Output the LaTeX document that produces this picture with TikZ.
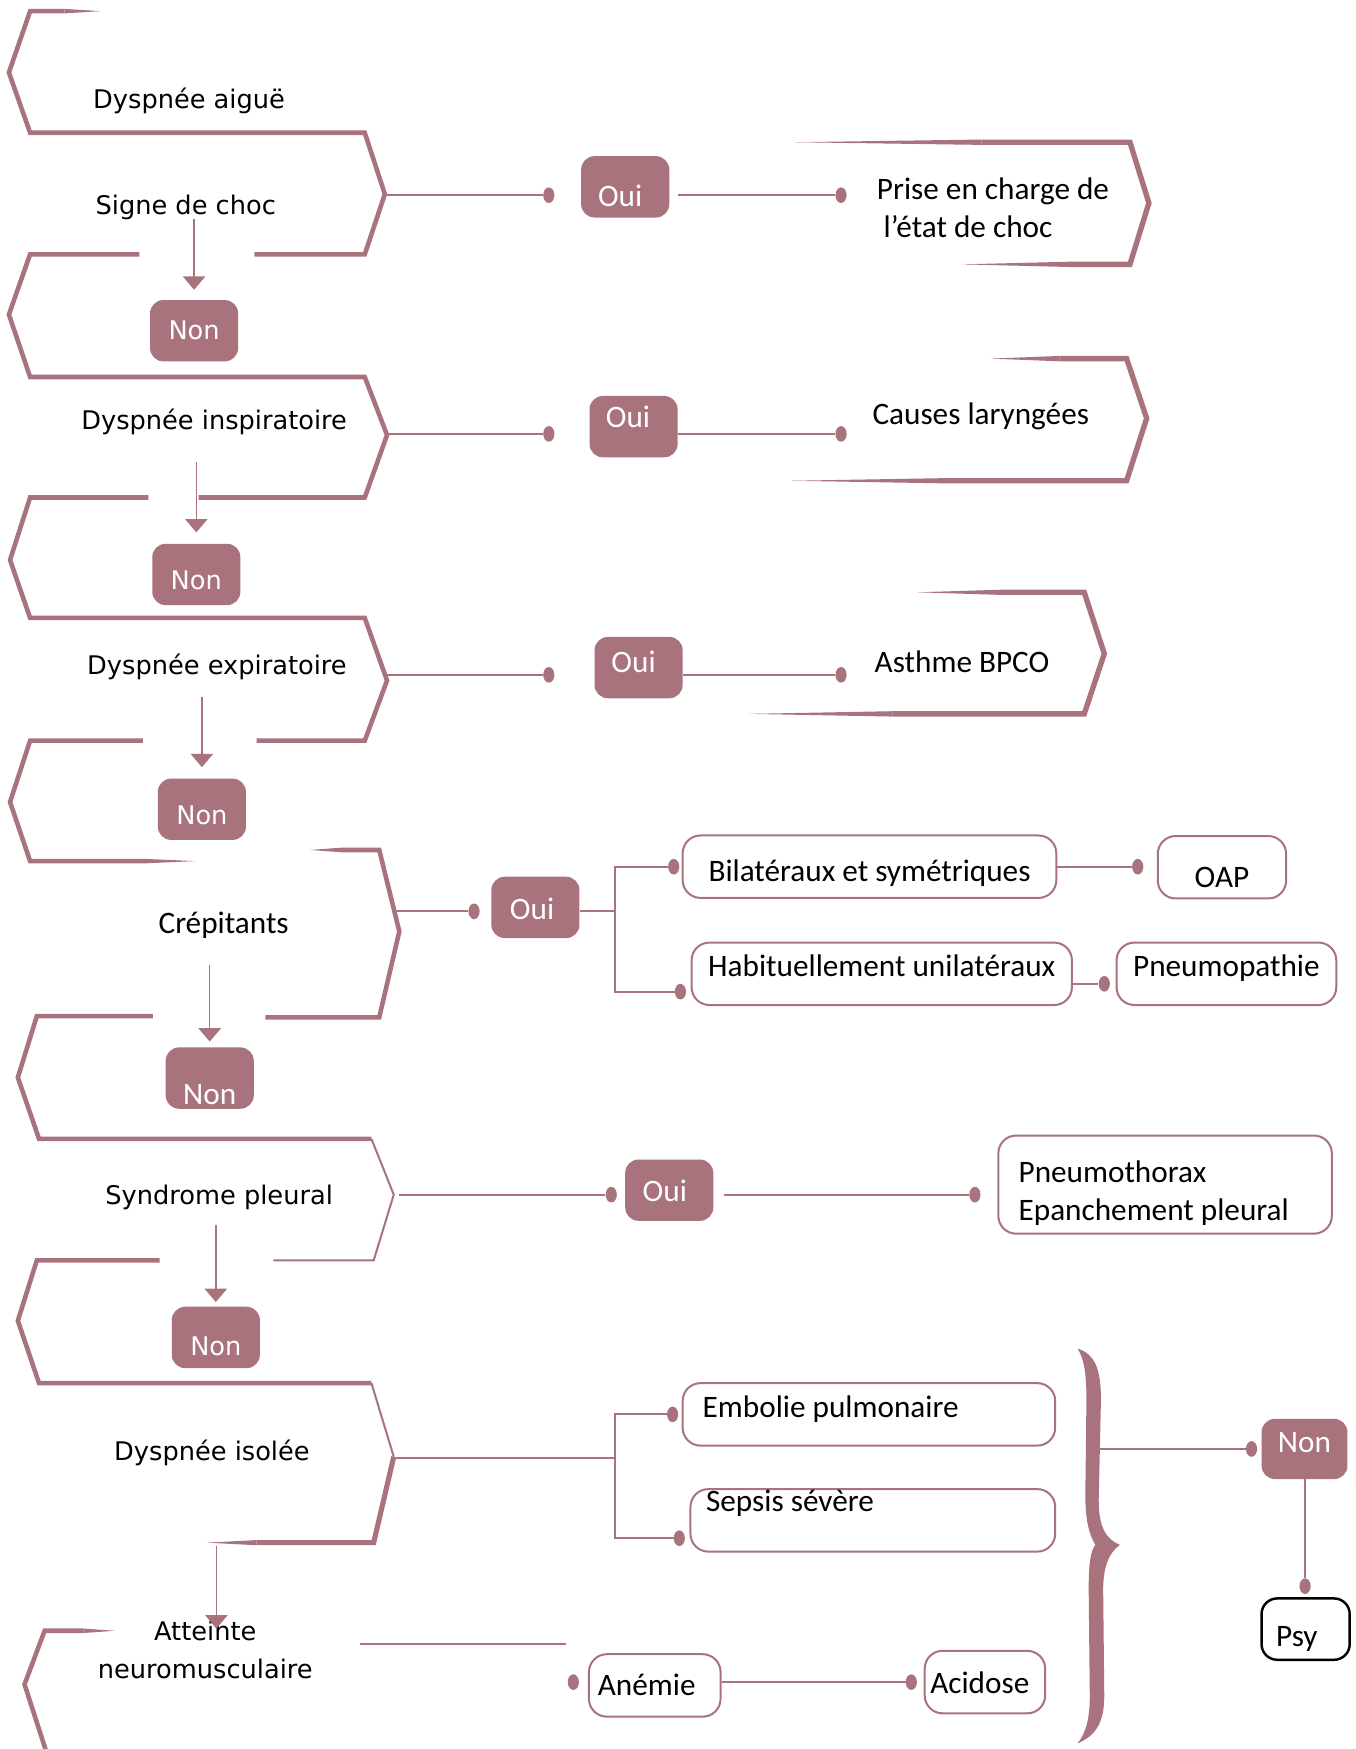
\documentclass[tikz,border=0pt]{standalone}
\usepackage{fontspec}
\setmainfont{Carlito}
\newfontfamily\wideface{DejaVu Sans}
\usetikzlibrary{arrows.meta,shapes.geometric}
\definecolor{mauve}{HTML}{A8737D}

% tapered stroke end: thin point at x=#1, full width 2*#4 at x=#2, on height #3
\newcommand\taper[4]{\fill[mauve] (#1,#3) -- (#2,#3-#4) -- (#2,#3+#4) -- cycle;}

\begin{document}
\begin{tikzpicture}[x=1pt,y=-1pt,
  ribbon/.style={draw=mauve,line width=4.1pt,line join=miter,miter limit=10},
  fineribbon/.style={draw=mauve,line width=1.8pt,line join=miter,miter limit=10},
  link/.style={draw=mauve,line width=1.9pt},
  dot/.style={ellipse,fill=mauve,draw=none,inner sep=0pt,minimum width=10pt,minimum height=14pt},
  tag/.style={rounded corners=12pt,fill=mauve,text=white,inner sep=0pt,
              minimum width=79pt,minimum height=55pt,text depth=0pt,
              font=\fontsize{28}{34}\selectfont},
  widetag/.style={tag,font=\wideface\fontsize{23}{28}\selectfont},
  box/.style={draw=mauve,line width=1.8pt,rounded corners=16pt,fill=white,inner sep=0pt,
              minimum height=56pt,text depth=0pt,font=\fontsize{28}{34}\selectfont},
  wlbl/.style={font=\wideface\fontsize{23}{34}\selectfont,inner sep=0pt,anchor=base},
  clbl/.style={font=\fontsize{28}{34}\selectfont,inner sep=0pt,anchor=base west},
  arr/.style={draw=mauve,line width=1.2pt,-{Triangle[width=20pt,length=12pt]}}
]
\fill[white] (0,0) rectangle (1215,1568);
\useasboundingbox (0,0) rectangle (1215,1568);

% ---- zigzag ribbon of the main column
\taper{90}{58}{10}{2}
\draw[ribbon] (58,10) -- (27,10) -- (8,65) -- (27,119) -- (327,119) -- (345,174) -- (327,228) -- (228,228);
\draw[ribbon] (125,228) -- (27,228) -- (8,282) -- (27,338) -- (327,338) -- (347,390) -- (327,446) -- (178,446);
\draw[ribbon] (133,446) -- (27,446) -- (9,502) -- (27,554) -- (327,554) -- (347,610) -- (327,664) -- (230,664);
\draw[ribbon] (128,664) -- (27,664) -- (9,719) -- (27,772) -- (130,772);
\taper{175}{130}{772}{2}
\taper{278}{305}{762}{2}
\draw[ribbon] (305,762) -- (340,762) -- (358,835) -- (340,912) -- (238,912);
\draw[ribbon] (137,911) -- (33,911) -- (16,966) -- (35,1021) -- (333,1021);
\draw[fineribbon] (333,1021) -- (353,1071) -- (335,1130) -- (245,1130);
\draw[ribbon] (143,1130) -- (33,1130) -- (16,1184) -- (35,1240) -- (333,1240);
\draw[fineribbon] (333,1240) -- (353,1306);
\draw[ribbon,line width=4.6pt] (353,1306) -- (335,1383) -- (230,1383);
\taper{185}{230}{1383}{2.3}
\taper{103}{75}{1462}{2}
\draw[ribbon] (75,1462) -- (40,1462) -- (22,1510) -- (42,1572);

% ---- outcome chevrons on the right
\taper{712}{880}{127.5}{2.4}
\draw[ribbon,line width=4.8pt] (880,127.5) -- (1013,127.5) -- (1030,182) -- (1013,237) -- (960,237);
\taper{862}{960}{237}{2.4}
\taper{888}{950}{321.5}{2.4}
\draw[ribbon,line width=4.8pt] (950,321.5) -- (1010,321.5) -- (1028,375) -- (1010,431) -- (850,431);
\taper{710}{850}{431}{2.4}
\taper{822}{900}{531}{2.4}
\draw[ribbon,line width=4.8pt] (900,531) -- (972,531) -- (990,586) -- (972,640) -- (800,640);
\taper{671}{800}{640}{2.4}

% ---- curly brace
\fill[mauve] (966,1209) .. controls (982,1214) and (987,1228) .. (987,1255)
  -- (985,1345) .. controls (985,1370) and (992,1380) .. (1004,1385)
  .. controls (994,1392) and (989,1405) .. (989,1425)
  -- (990,1520) .. controls (990,1545) and (982,1556) .. (966,1563)
  .. controls (974,1553) and (977,1540) .. (977,1520)
  -- (976,1425) .. controls (976,1400) and (978,1390) .. (982,1385)
  .. controls (976,1375) and (973,1362) .. (973,1340)
  -- (974,1255) .. controls (974,1232) and (972,1218) .. (966,1209) -- cycle;

% ---- attachment points
\coordinate (p1) at (345,175);
\coordinate (p2) at (347,389);
\coordinate (p3) at (347,605);
\coordinate (p4) at (354,817);
\coordinate (b4) at (551,817);
\coordinate (p5) at (358,1071);
\coordinate (p6) at (353,1307);
\coordinate (b6) at (551,1307);
\coordinate (bm) at (985,1299);
\coordinate (nm1) at (323,1474);
\coordinate (nm2) at (507,1474);
\coordinate (a6s) at (194,1386);
\coordinate (a6e) at (194,1460);

% ---- labels of the main column
\node[wlbl] (aig) at (169.5,97) {Dyspnée aiguë};
\node[wlbl] (sig) at (166.5,192) {Signe de choc};
\node[wlbl] (ins) at (192,385) {Dyspnée inspiratoire};
\node[wlbl] (exp) at (194.5,605) {Dyspnée expiratoire};
\node[clbl,anchor=base] (cre) at (200.5,837) {Crépitants};
\node[wlbl] (syn) at (196.5,1080) {Syndrome pleural};
\node[wlbl] (iso) at (190,1309) {Dyspnée isolée};
\node[wlbl] (neu) at (184,1471) {\begin{tabular}[t]{@{}c@{}}Atteinte\\neuromusculaire\end{tabular}};

% ---- labels of the right chevrons
\node[clbl] (pec) at (786,179) {\begin{tabular}[t]{@{}l@{}}Prise en charge de\\\hspace*{6pt}l’état de choc\end{tabular}};
\node[clbl] (lar) at (782,381) {Causes laryngées};
\node[clbl] (ast) at (784,603) {Asthme BPCO};

% ---- Oui / Non tags
\node[tag,text height=35pt] (oui1) at (560.5,167.5) {\hspace*{-9pt}Oui};
\node[tag,text height=1pt] (oui2) at (568,382.5) {\hspace*{-10pt}Oui};
\node[tag,text height=9pt] (oui3) at (572.5,598.5) {\hspace*{-9pt}Oui};
\node[tag,text height=21pt] (oui4) at (480,813.5) {\hspace*{-6pt}Oui};
\node[tag,text height=20pt] (oui5) at (600,1067) {\hspace*{-8pt}Oui};
\node[widetag,text height=16pt] (non1) at (174,296.5) {Non};
\node[widetag,text height=27pt] (non2) at (176,515) {Non};
\node[widetag,text height=28pt] (non3) at (181,725.5) {Non};
\node[tag,text height=47pt] (non4) at (188,966.5) {Non};
\node[widetag,text height=33pt] (non5) at (193.5,1199) {Non};
\node[tag,text height=6pt,minimum width=77pt,minimum height=54pt] (non6) at (1169.5,1299) {Non};

% ---- outlined boxes
\node[box,minimum width=335pt,text height=26pt] (bil) at (779.5,777) {Bilatéraux et symétriques};
\node[box,minimum width=115pt,text height=37pt] (oap) at (1095.5,777.5) {OAP};
\node[box,minimum width=341pt,text height=4pt] (hab) at (790.5,873) {Habituellement unilatéraux};
\node[box,minimum width=197pt,text height=4pt] (pne) at (1099.5,873) {Pneumopathie};
\node[box,minimum width=299pt,minimum height=88pt] (pe) at (1044.5,1062) {};
\node[clbl] (petxt) at (913,1060) {\begin{tabular}[t]{@{}l@{}}Pneumothorax\\Epanchement pleural\end{tabular}};
\node[box,minimum width=334pt,text height=6pt] (emb) at (779,1268) {\makebox[298pt][l]{Embolie pulmonaire}};
\node[box,minimum width=327pt,text height=0pt,text depth=16pt] (sep) at (782.5,1363) {\makebox[299pt][l]{Sepsis sévère}};
\node[box,minimum width=118pt,text height=18pt] (ane) at (587,1511) {\makebox[102pt][l]{Anémie}};
\node[box,minimum width=108pt,text height=20pt] (aci) at (883,1508) {\makebox[98pt][l]{Acidose}};
\node[box,minimum width=79pt,minimum height=55pt,text height=31pt,draw=black,line width=2.2pt,rounded corners=14pt] (psy) at (1170.5,1460.5) {\makebox[53pt][l]{Psy}};

% ---- end dots
\node[dot] (d1a) at (492,175) {};
\node[dot] (d1b) at (754,175) {};
\node[dot] (d2a) at (492,389) {};
\node[dot] (d2b) at (754,389) {};
\node[dot] (d3a) at (492,605) {};
\node[dot] (d3b) at (754,605) {};
\node[dot] (d4a) at (425,817) {};
\node[dot] (d4b) at (604,777) {};
\node[dot] (d4c) at (610,889) {};
\node[dot] (d4d) at (1020,777) {};
\node[dot] (d4e) at (990,882) {};
\node[dot] (d5a) at (548,1071) {};
\node[dot] (d5b) at (874,1071) {};
\node[dot] (d6a) at (603,1268) {};
\node[dot] (d6b) at (609,1379) {};
\node[dot] (d7a) at (1122,1299) {};
\node[dot] (d7b) at (1170,1422) {};
\node[dot] (d8a) at (514,1508) {};
\node[dot] (d8b) at (817,1508) {};

% ---- connectors
\draw[link] (p1) -- (d1a);
\draw[link] ([xshift=8pt]oui1.east |- d1b) -- (d1b);
\draw[link] (p2) -- (d2a);
\draw[link] (oui2.east |- d2b) -- (d2b);
\draw[link] (p3) -- (d3a);
\draw[link] (oui3.east |- d3b) -- (d3b);
\draw[link] (p4) -- (d4a);
\draw[link] (oui4.east |- b4) -- (b4);
\draw[link] (d4b) -| (b4) |- (d4c);
\draw[link] (bil.east |- d4d) -- (d4d);
\draw[link] (hab.east |- d4e) -- (d4e);
\draw[link] (p5) -- (d5a);
\draw[link] ([xshift=9pt]oui5.east |- d5b) -- (d5b);
\draw[link] (p6) -- (b6);
\draw[link] (d6a) -| (b6) |- (d6b);
\draw[link] (bm) -- (d7a);
\draw[link] (non6.south -| d7b) -- (d7b);
\draw[link,line width=1.4pt] (nm1) -- (nm2);
\draw[link] (ane.east |- d8b) -- (d8b);

% ---- downward arrows of the main column
\draw[arr] (non1.north |- 0,196) -- ([yshift=9pt]non1.north);
\draw[arr] (non2.north |- 0,414) -- ([yshift=10pt]non2.north);
\draw[arr] (non3.north |- 0,625) -- ([yshift=10pt]non3.north);
\draw[arr] (non4.north |- 0,865) -- ([yshift=5pt]non4.north);
\draw[arr] (non5.north |- 0,1098) -- ([yshift=4pt]non5.north);
\draw[arr] (a6s) -- (a6e);
\end{tikzpicture}
\end{document}
